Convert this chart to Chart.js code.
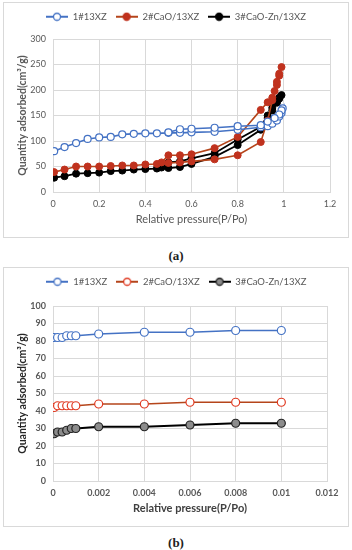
<!DOCTYPE html>
<html>
<head>
<meta charset="utf-8">
<script src="https://cdn.jsdelivr.net/npm/chart.js@4"></script>
<style>
  body { margin: 0; background: #fff; width: 352px; height: 550px; position: relative; overflow: hidden; }
  .box { position: absolute; left: 3px; width: 346px; border: 1px solid #d9d9d9; box-sizing: border-box; }
  .box canvas { display: block; }
  .cap { position: absolute; left: 0; width: 352px; text-align: center; font: bold 13px "Liberation Serif", "DejaVu Serif", serif; color: #222; }
</style>
</head>
<body>
<div class="box" style="top:2px;height:236px"><canvas id="chartA" width="344" height="234"></canvas></div>
<div class="cap" style="top:248px">(a)</div>
<div class="box" style="top:267px;height:260px"><canvas id="chartB" width="344" height="258"></canvas></div>
<div class="cap" style="top:535px">(b)</div>

<script>
// ---------- data (a): full isotherms, adsorption branch then desorption branch ----------
const labelsAll = ['1#13XZ', '2#CaO/13XZ', '3#CaO-Zn/13XZ'];

const pA1 = [0.005, 0.05, 0.1, 0.15, 0.2, 0.25, 0.3, 0.35, 0.4, 0.45, 0.5, 0.55, 0.6, 0.7, 0.8, 0.9, 0.93, 0.95, 0.97, 0.98, 0.99,
             0.995, 0.99, 0.98, 0.96, 0.93, 0.9, 0.8, 0.7, 0.6, 0.55, 0.5];
const qA1 = [80, 88, 96, 104, 107, 108, 113, 114, 115, 115, 116, 116, 117, 118, 122, 127, 129, 134, 140, 148, 155,
             164, 160, 152, 145, 138, 131, 129, 126, 124, 123, 117];

const pA2 = [0.005, 0.05, 0.1, 0.15, 0.2, 0.25, 0.3, 0.35, 0.4, 0.45, 0.5, 0.55, 0.6, 0.7, 0.8, 0.9, 0.93, 0.95, 0.97, 0.98, 0.99,
             0.98, 0.97, 0.96, 0.95, 0.93, 0.9, 0.8, 0.7, 0.6, 0.55, 0.5, 0.47];
const qA2 = [39, 44, 50, 50, 50, 51, 52, 52, 54, 55, 57, 58, 60, 64, 72, 98, 140, 180, 210, 228, 245,
             232, 216, 198, 185, 176, 161, 108, 86, 74, 72, 72, 58];

const pA3 = [0.005, 0.05, 0.1, 0.15, 0.2, 0.25, 0.3, 0.35, 0.4, 0.45, 0.5, 0.55, 0.6, 0.7, 0.8, 0.9, 0.93, 0.95, 0.97, 0.98, 0.99,
             0.98, 0.97, 0.95, 0.93, 0.9, 0.8, 0.7, 0.6, 0.55, 0.5, 0.47];
const qA3 = [28, 31, 36, 37, 38, 41, 42, 44, 45, 46, 47, 49, 55, 69, 92, 122, 145, 160, 175, 183, 190,
             185, 178, 165, 150, 128, 103, 76, 66, 60, 58, 48];

const xTicksA = ['0', '0.2', '0.4', '0.6', '0.8', '1', '1.2'];
const yTicksA = ['0', '50', '100', '150', '200', '250', '300'];

// ---------- data (b): low pressure region ----------
const pB = [0.00005, 0.0002, 0.0004, 0.0006, 0.0008, 0.001, 0.002, 0.004, 0.006, 0.008, 0.01];
const qB1 = [82, 82, 82, 83, 83, 83, 84, 85, 85, 86, 86];
const qB2 = [42, 43, 43, 43, 43, 43, 44, 44, 45, 45, 45];
const qB3 = [27, 28, 28, 29, 30, 30, 31, 31, 32, 33, 33];

const xTicksB = ['0', '0.002', '0.004', '0.006', '0.008', '0.01', '0.012'];
const yTicksB = ['0', '10', '20', '30', '40', '50', '60', '70', '80', '90', '100'];

const FONT = 'Lato, "Open Sans", sans-serif';
const GRID = '#d9d9d9';
const TXT = '#595959';

function toPoints(xs, ys) {
    return xs.map((x, i) => ({ x: x, y: ys[i] }));
}

// little line+circle picture for the legend
function makeMarker(lineColor, fill, border, r) {
    const c = document.createElement('canvas');
    c.width = 22; c.height = 10;
    const ctx = c.getContext('2d');
    ctx.strokeStyle = lineColor;
    ctx.lineWidth = 2;
    ctx.beginPath(); ctx.moveTo(0, 5); ctx.lineTo(22, 5); ctx.stroke();
    ctx.beginPath(); ctx.arc(11, 5, r, 0, Math.PI * 2);
    ctx.fillStyle = fill; ctx.fill();
    ctx.lineWidth = 1.3; ctx.strokeStyle = border; ctx.stroke();
    return c;
}

// fixes legend height and shifts it sideways so the plot area lands where the picture has it
function legendPlugin(height, shift) {
    return {
        id: 'legendFix',
        beforeLayout(chart) {
            const lg = chart.legend;
            if (lg && !lg._fixed) {
                const fit = lg.fit;
                lg.fit = function() { fit.call(this); this.height = height; };
                lg._fixed = true;
            }
        },
        afterLayout(chart) {
            chart.legend.left += shift;
            chart.legend.right += shift;
        }
    };
}

function buildChart(id, datasets, markers, cfg) {
    return new Chart(document.getElementById(id), {
        type: 'scatter',
        data: { datasets: datasets },
        options: {
            responsive: false,
            animation: false,
            events: [],
            layout: { padding: { left: 0, right: cfg.padRight, top: 0, bottom: 0 } },
            plugins: {
                tooltip: { enabled: false },
                legend: {
                    position: 'top',
                    labels: {
                        usePointStyle: true,
                        pointStyleWidth: 22,
                        padding: 9,
                        color: TXT,
                        font: { family: FONT, size: 9.5, weight: cfg.legendWeight },
                        generateLabels: function(chart) {
                            return chart.data.datasets.map((ds, i) => ({
                                text: ds.label,
                                pointStyle: markers[i],
                                fontColor: TXT,
                                datasetIndex: i,
                                hidden: false,
                                lineWidth: 0,
                                strokeStyle: 'rgba(0,0,0,0)',
                                fillStyle: 'rgba(0,0,0,0)'
                            }));
                        }
                    }
                }
            },
            scales: {
                x: {
                    type: 'linear',
                    min: 0, max: cfg.xMax,
                    afterBuildTicks: function(scale) {
                        scale.ticks = cfg.xTicks.map(t => ({ value: parseFloat(t) }));
                    },
                    afterFit: function(scale) { scale.height = cfg.xAxisH; },
                    grid: { color: GRID, drawTicks: false },
                    border: { color: GRID },
                    ticks: {
                        padding: 7,
                        color: TXT,
                        font: { family: FONT, size: 9, weight: cfg.tickWeight },
                        callback: (v, i) => cfg.xTicks[i]
                    },
                    title: {
                        display: true,
                        text: 'Relative pressure(P/Po)',
                        color: cfg.xTitleColor,
                        font: { family: FONT, size: 11, weight: cfg.xTitleWeight },
                        padding: { top: 0, bottom: 11 }
                    }
                },
                y: {
                    min: 0, max: cfg.yMax,
                    afterBuildTicks: function(scale) {
                        scale.ticks = cfg.yTicks.map(t => ({ value: parseFloat(t) }));
                    },
                    afterFit: function(scale) { scale.width = cfg.yAxisW; },
                    grid: { color: GRID, drawTicks: false },
                    border: { display: false },
                    ticks: {
                        padding: 7,
                        color: TXT,
                        font: { family: FONT, size: 9, weight: cfg.tickWeight },
                        callback: (v, i) => cfg.yTicks[i]
                    },
                    title: {
                        display: true,
                        text: 'Quantity adsorbed(cm\u00B3/g)',
                        color: cfg.yTitleColor,
                        font: { family: FONT, size: 10.5, weight: 'bold' },
                        padding: { top: 12, bottom: 0 }
                    }
                }
            }
        },
        plugins: [legendPlugin(cfg.legendH, cfg.legendShift)]
    });
}

function drawAll() {
    // ---------- chart (a) ----------
    const blue = '#4472C4', redLine = '#B5451B', redPt = '#C0321E';
    const markersA = [
        makeMarker(blue, '#fff', blue, 3.5),
        makeMarker(redLine, redPt, redPt, 3.5),
        makeMarker('#000', '#000', '#000', 3.5)
    ];
    buildChart('chartA', [
        { label: labelsAll[0], data: toPoints(pA1, qA1), showLine: true, borderColor: blue, borderWidth: 1.6,
          pointRadius: 3.5, pointBackgroundColor: '#fff', pointBorderColor: blue, pointBorderWidth: 1.2 },
        { label: labelsAll[1], data: toPoints(pA2, qA2), showLine: true, borderColor: redLine, borderWidth: 1.6,
          pointRadius: 3.5, pointBackgroundColor: redPt, pointBorderColor: redPt, pointBorderWidth: 1 },
        { label: labelsAll[2], data: toPoints(pA3, qA3), showLine: true, borderColor: '#000', borderWidth: 1.8,
          pointRadius: 3.5, pointBackgroundColor: '#000', pointBorderColor: '#000', pointBorderWidth: 1 }
    ], markersA, {
        padRight: 18, xAxisH: 45, yAxisW: 49, legendH: 36, legendShift: 9,
        xMax: 1.2, yMax: 300, xTicks: xTicksA, yTicks: yTicksA,
        tickWeight: 'normal', legendWeight: 'normal', xTitleWeight: 'normal',
        xTitleColor: TXT, yTitleColor: TXT
    });

    // ---------- chart (b) ----------
    const redB = '#E03A22';
    const markersB = [
        makeMarker(blue, '#fff', blue, 3.5),
        makeMarker(redLine, '#fff', redB, 3.5),
        makeMarker('#000', '#8c8c8c', '#222', 3.5)
    ];
    buildChart('chartB', [
        { label: labelsAll[0], data: toPoints(pB, qB1), showLine: true, borderColor: blue, borderWidth: 1.6,
          pointRadius: 4, pointBackgroundColor: '#fff', pointBorderColor: blue, pointBorderWidth: 1.2 },
        { label: labelsAll[1], data: toPoints(pB, qB2), showLine: true, borderColor: redLine, borderWidth: 1.6,
          pointRadius: 4, pointBackgroundColor: '#fff', pointBorderColor: redB, pointBorderWidth: 1.2 },
        { label: labelsAll[2], data: toPoints(pB, qB3), showLine: true, borderColor: '#000', borderWidth: 1.8,
          pointRadius: 4, pointBackgroundColor: '#8c8c8c', pointBorderColor: '#222', pointBorderWidth: 1.2 }
    ], markersB, {
        padRight: 21, xAxisH: 45, yAxisW: 49, legendH: 38, legendShift: 11,
        xMax: 0.012, yMax: 100, xTicks: xTicksB, yTicks: yTicksB,
        tickWeight: 'bold', legendWeight: 'normal', xTitleWeight: 'bold',
        xTitleColor: '#404040', yTitleColor: '#262626'
    });
}

// make sure Lato is ready before Chart.js measures any text
Promise.all([
    document.fonts.load('9px Lato'),
    document.fonts.load('bold 9px Lato')
]).then(drawAll, drawAll);
</script>
</body>
</html>
